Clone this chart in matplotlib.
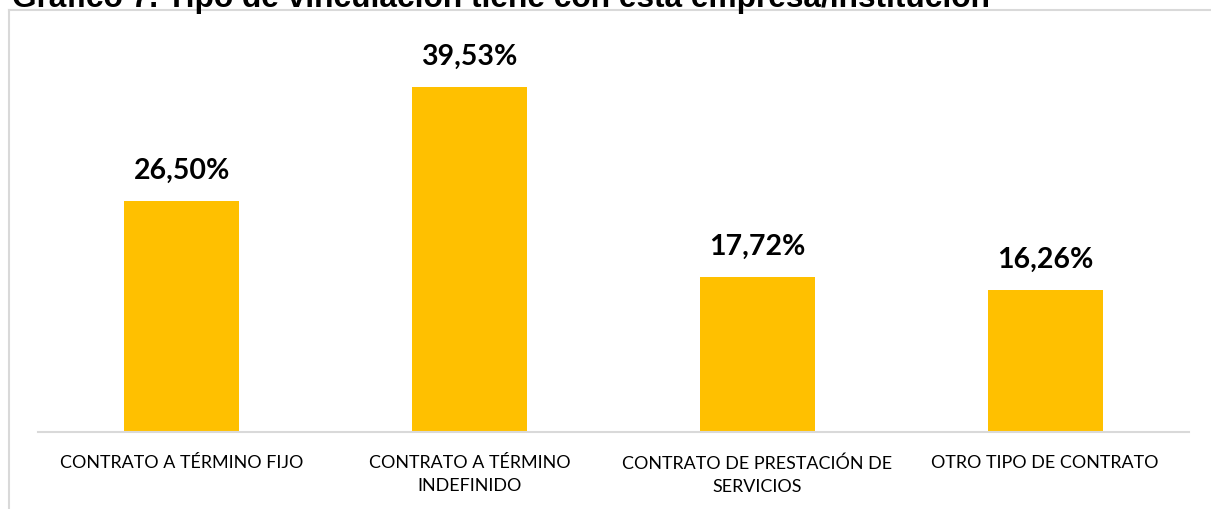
import matplotlib
matplotlib.use("Agg")
import matplotlib.pyplot as plt
from matplotlib.lines import Line2D

categories = ["CONTRATO A TÉRMINO FIJO", "CONTRATO A TÉRMINO\nINDEFINIDO",
              "CONTRATO DE PRESTACIÓN DE\nSERVICIOS", "OTRO TIPO DE CONTRATO"]
values = [26.50, 39.53, 17.72, 16.26]
value_labels = ["26,50%", "39,53%", "17,72%", "16,26%"]
title = "Gráfico 7. Tipo de vinculación tiene con esta empresa/institución"

W, H = 1211, 510
fig = plt.figure(figsize=(W / 100, H / 100), dpi=100)

# outer chart box (light gray), partially outside the figure
fig.add_artist(Line2D([8.5 / W, 1.0], [1 - 11 / H, 1 - 11 / H], transform=fig.transFigure,
                      color="#D9D9D9", lw=1.5))
fig.add_artist(Line2D([8.5 / W, 8.5 / W], [1 - 11 / H, 0], transform=fig.transFigure,
                      color="#D9D9D9", lw=1.5))

fig.text(12 / W, 1 - 7 / H, title, fontsize=22.8, fontweight="bold",
         family="Liberation Sans", va="baseline", ha="left", color="black")

left, right = 38 / W, 1189 / W
bottom = (H - 433) / H
top_px = 40
ax = fig.add_axes([left, bottom, right - left, (433 - top_px) / H])
x = list(range(len(categories)))
ax.bar(x, values, width=0.4, color="#FFC000", zorder=2)
ax.set_xlim(-0.5, len(categories) - 0.5)
ax.set_ylim(0, 45.03)
for s in ["left", "right", "top"]:
    ax.spines[s].set_visible(False)
ax.spines["bottom"].set_color("#D9D9D9")
ax.spines["bottom"].set_linewidth(1.5)
ax.set_yticks([])
ax.set_xticks(x)
ax.set_xticklabels(categories, family="Lato", fontsize=12.9, color="black",
                   linespacing=1.55)
ax.tick_params(axis="x", length=0, pad=16)
for xi, v, lab in zip(x, values, value_labels):
    ax.annotate(lab, (xi, v), xytext=(0, 13), textcoords="offset points",
                ha="center", va="bottom", fontsize=20.5, fontweight="bold",
                family="Lato", color="black")
ax.patch.set_alpha(0)

fig.savefig("out.png", dpi=100)
